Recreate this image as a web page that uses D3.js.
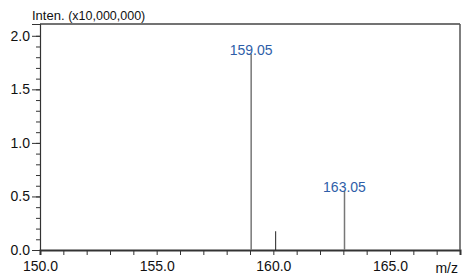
<!DOCTYPE html>
<html>
<head>
<meta charset="utf-8">
<script src="https://cdn.jsdelivr.net/npm/d3@7"></script>
<style>
  body { margin: 0; background: #fff; }
  svg text { font-family: "Liberation Sans", Arial, sans-serif; }
</style>
</head>
<body>
<script>
// peak data (m/z, intensity x10,000,000)
var peakMz = [159.05, 160.1, 163.05];
var peakInt = [1.83, 0.175, 0.55];
var peakLabels = ["159.05", "", "163.05"];
var peakColors = ["#777", "#222", "#777"];

var xMajor = [150, 155, 160, 165];
var yMajor = [0, 0.5, 1.0, 1.5, 2.0];

var svgWidth = 462, svgHeight = 275;
var margin = { top: 24, right: 2, bottom: 25, left: 40 };
var w = svgWidth - margin.left - margin.right;
var h = svgHeight - margin.top - margin.bottom;

var svg = d3.select("body").append("svg")
  .attr("width", svgWidth)
  .attr("height", svgHeight);

var g = svg.append("g")
  .attr("transform", `translate(${margin.left}, ${margin.top})`);

var x = d3.scaleLinear().domain([150, 168]).range([0, w]);
var y = d3.scaleLinear().domain([0, 2.11]).range([h, 0]);

// minor ticks y
g.append("g")
  .call(d3.axisLeft(y).tickValues(d3.range(0, 2.05, 0.1)).tickSize(4).tickFormat(""))
  .call(a => a.select(".domain").remove())
  .selectAll("line").attr("stroke", "#333");

// major y axis
var yAx = g.append("g")
  .call(d3.axisLeft(y).tickValues(yMajor).tickSize(8).tickPadding(2).tickFormat(d3.format(".1f")));
yAx.select(".domain").attr("stroke", "#333").attr("stroke-width", 1.2);
yAx.selectAll("line").attr("stroke", "#333");
yAx.selectAll("text").style("font-size", "14px").attr("fill", "#111");

// x axis
var xAx = g.append("g")
  .attr("transform", `translate(0, ${h})`)
  .call(d3.axisBottom(x).tickValues(d3.range(150, 168.5, 1)).tickSize(5)
    .tickFormat(d => xMajor.indexOf(d) >= 0 ? d3.format(".1f")(d) : ""));
xAx.select(".domain").attr("stroke", "#333").attr("stroke-width", 2);
xAx.selectAll("line").attr("stroke", "#333");
xAx.selectAll("text").style("font-size", "14px").attr("fill", "#111").attr("dy", "0.9em");

// frame top/right
g.append("line").attr("x1", 0).attr("x2", w).attr("y1", 0).attr("y2", 0)
  .attr("stroke", "#444").attr("stroke-width", 1.5);
g.append("line").attr("x1", w).attr("x2", w).attr("y1", 0).attr("y2", h)
  .attr("stroke", "#555").attr("stroke-width", 1.5);

// peaks
g.selectAll(".peak")
  .data(peakMz)
  .enter()
  .append("line")
    .attr("x1", d => x(d)).attr("x2", d => x(d))
    .attr("y1", y(0))
    .attr("y2", (d, i) => y(peakInt[i]))
    .attr("stroke", (d, i) => peakColors[i])
    .attr("stroke-width", (d, i) => i == 1 ? 1 : 1.5);

g.selectAll(".plabel")
  .data(peakMz)
  .enter()
  .append("text")
    .attr("x", d => x(d))
    .attr("y", (d, i) => y(peakInt[i]) + 1)
    .attr("text-anchor", "middle")
    .attr("fill", "#2e5ea8")
    .style("font-size", "14px")
    .text((d, i) => peakLabels[i]);

// axis titles
var t = svg.append("text").attr("x", 32).attr("y", 20).attr("fill", "#111");
t.append("tspan").style("font-size", "13px").text("Inten. ");
t.append("tspan").style("font-size", "12.5px").text("(x10,000,000)");

svg.append("text")
  .attr("x", 458).attr("y", 273)
  .attr("text-anchor", "end")
  .attr("fill", "#111")
  .style("font-size", "14px")
  .text("m/z");
</script>
</body>
</html>
